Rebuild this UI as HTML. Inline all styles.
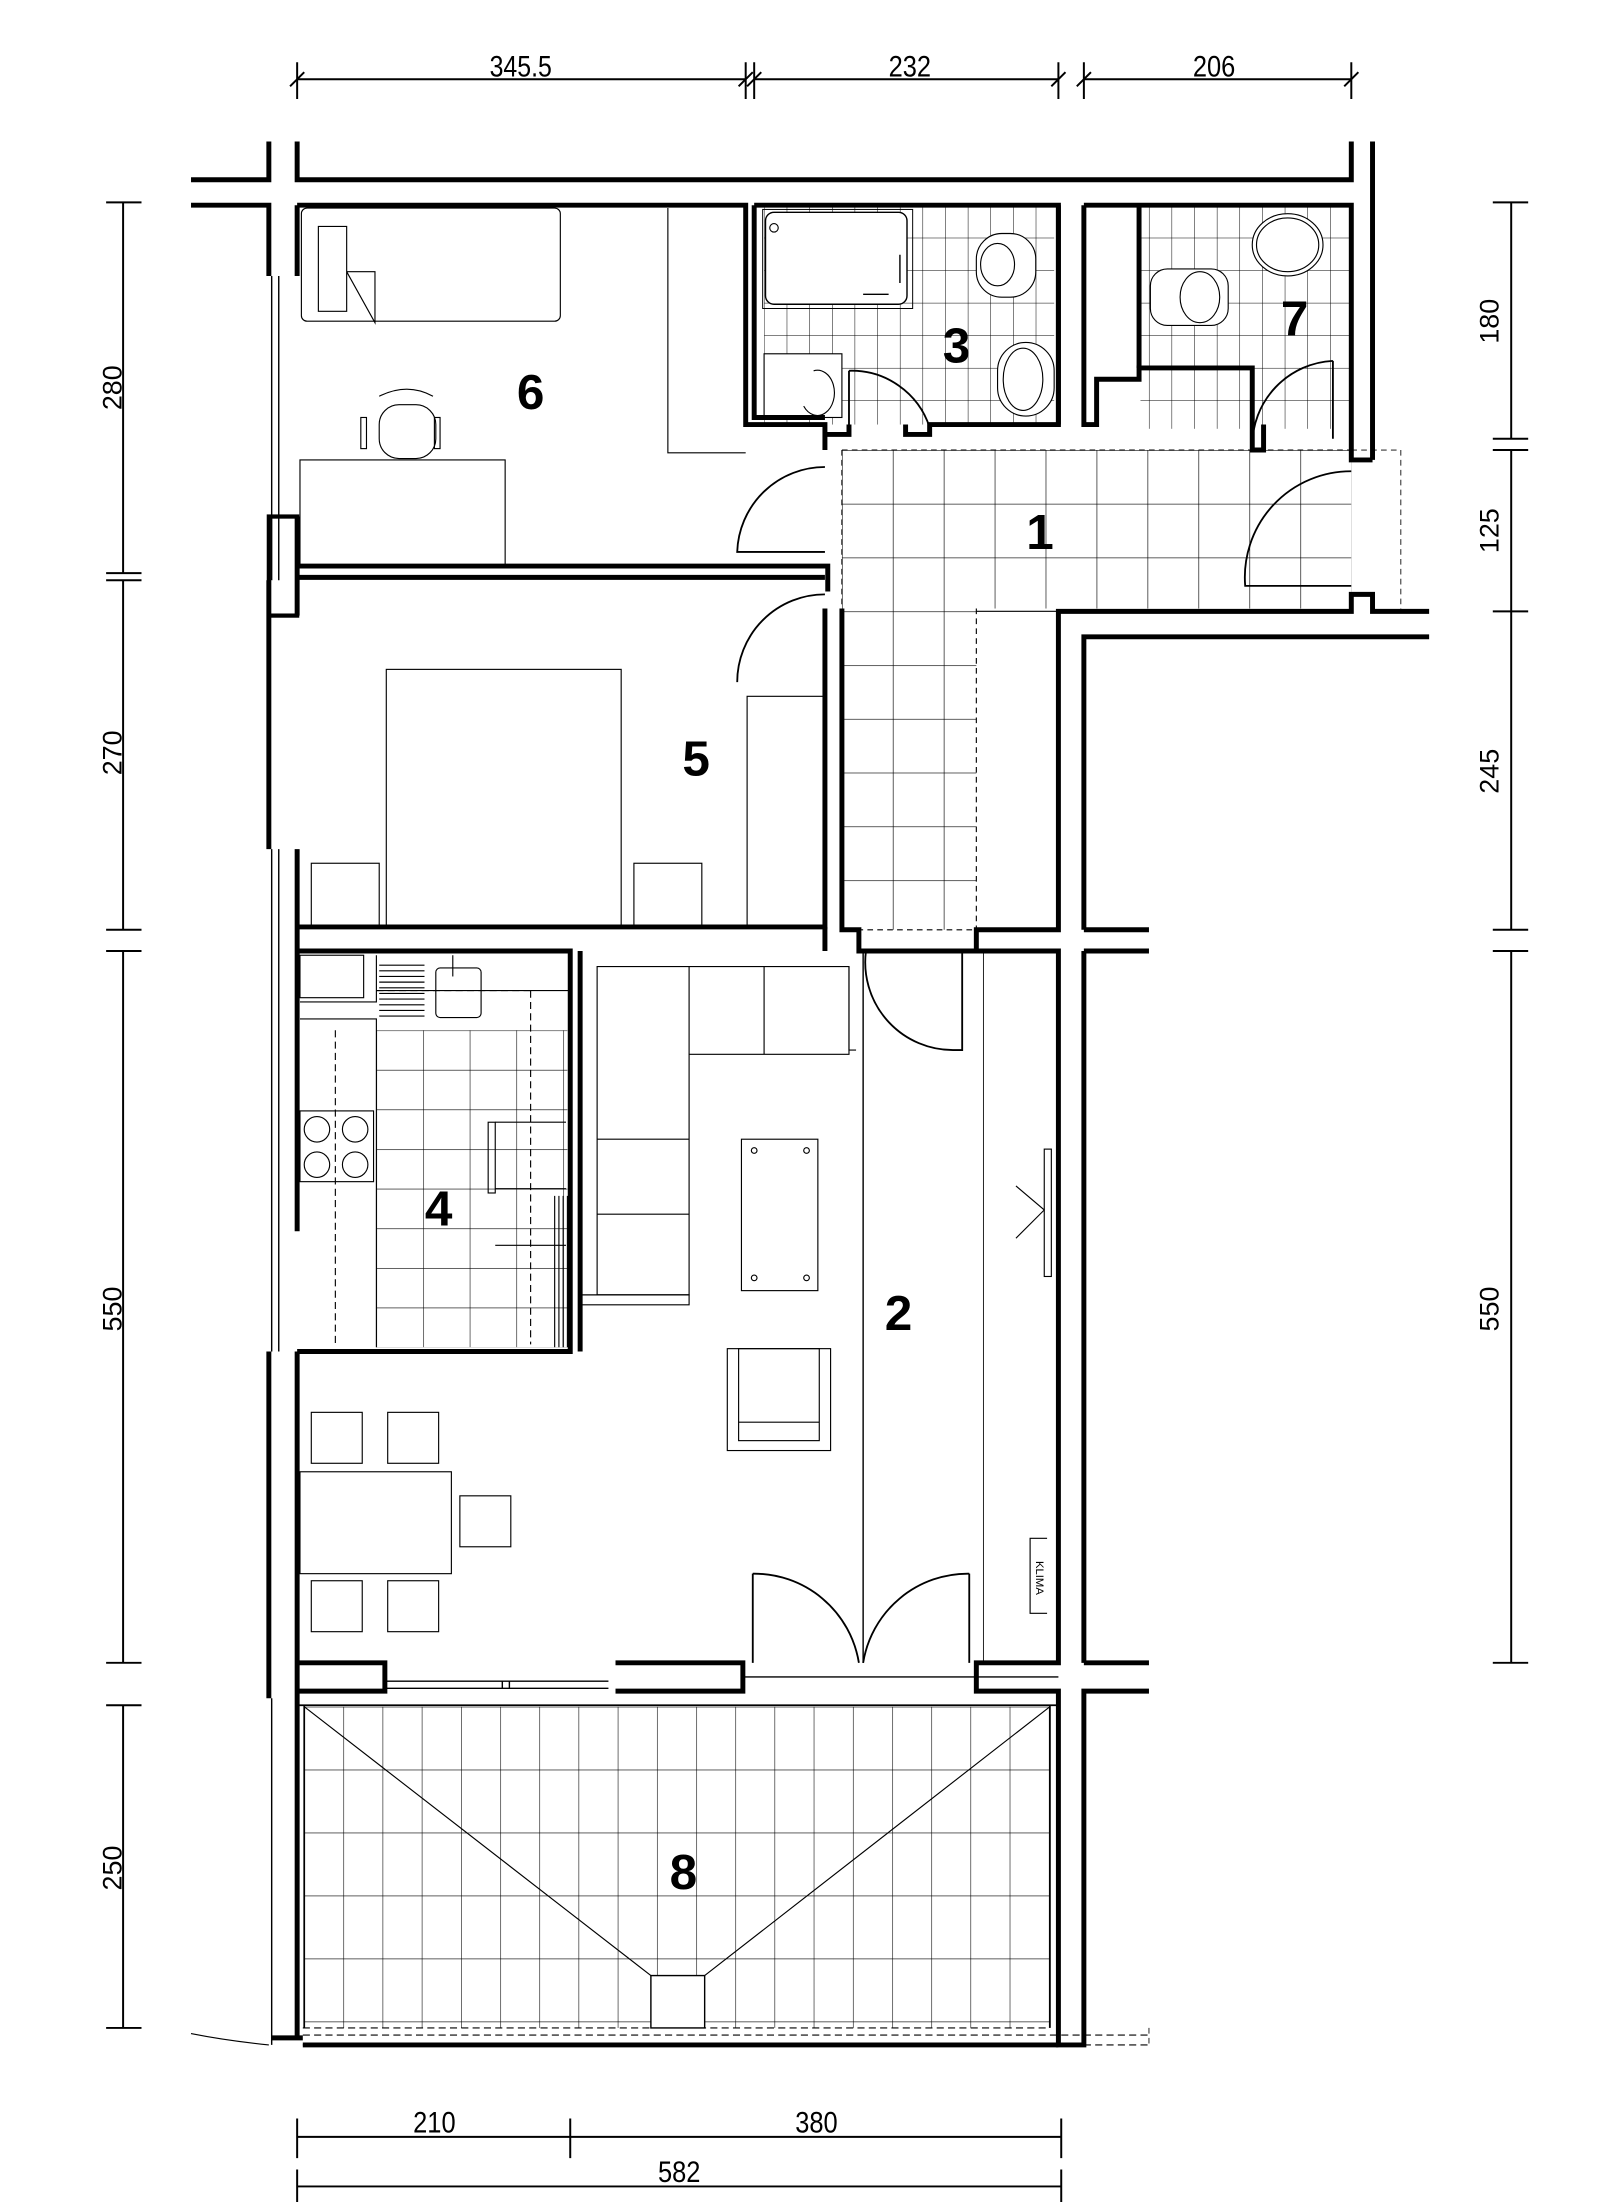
<!DOCTYPE html>
<html><head><meta charset="utf-8"><style>
html,body{margin:0;padding:0;background:#fff}
svg{display:block}
text{font-family:"Liberation Sans",sans-serif}
</style></head><body>
<svg width="1606" height="2202" viewBox="0 0 1135 1556" preserveAspectRatio="none" xmlns="http://www.w3.org/2000/svg">
<defs>
<pattern id="t36" x="595" y="318" width="36" height="38" patternUnits="userSpaceOnUse"><path d="M0 0H36M0 0V38" stroke="#000" stroke-width="0.9" fill="none"/></pattern>
<pattern id="t3" x="540" y="145" width="16" height="23" patternUnits="userSpaceOnUse"><path d="M0 0H16M0 0V23" stroke="#000" stroke-width="0.7" fill="none"/></pattern>
<pattern id="tk" x="266" y="700" width="33" height="28" patternUnits="userSpaceOnUse"><path d="M0 0H33M0 0V28" stroke="#000" stroke-width="0.8" fill="none"/></pattern>
<pattern id="tb" x="215" y="1206" width="27.7" height="44.5" patternUnits="userSpaceOnUse"><path d="M0 0H27.7M0 0V44.5" stroke="#000" stroke-width="0.8" fill="none"/></pattern>
</defs>
<g fill="none" stroke="#000">
<rect x="595" y="318" width="360" height="112" fill="url(#t36)" stroke="none"/>
<rect x="595" y="430" width="95" height="227" fill="url(#t36)" stroke="none"/>
<rect x="540" y="145" width="205" height="155" fill="url(#t3)" stroke="none"/>
<rect x="806" y="145" width="148" height="158" fill="url(#t3)" stroke="none"/>
<rect x="266" y="728" width="135" height="224" fill="url(#tk)" stroke="none"/>
<rect x="215" y="1206" width="527" height="227" fill="url(#tb)" stroke="none"/>
<path d="M595 318H955M595 318V657H690M690 430V657" stroke-dasharray="4 3" stroke-width="0.8"/>
<path d="M690 432H748" stroke-width="0.8"/>
<rect x="541" y="150" width="100" height="65" fill="#fff" stroke-width="1" rx="6"/>
<rect x="539" y="148" width="106" height="70" stroke-width="0.7"/>
<path d="M636 180V200M610 208H628" stroke-width="1"/>
<circle cx="547" cy="161" r="3" stroke-width="0.8"/>
<rect x="540" y="250" width="55" height="45" fill="#fff" stroke-width="0.8"/>
<path d="M575 262A12 16 0 1 1 568 287" stroke-width="0.8"/>
<rect x="690" y="165" width="42" height="45" fill="#fff" stroke-width="0.8" rx="18"/>
<ellipse cx="705" cy="187" rx="12" ry="15" stroke-width="0.8"/>
<rect x="705" y="242" width="40" height="52" fill="#fff" stroke-width="0.8" rx="20"/>
<ellipse cx="723" cy="268" rx="14" ry="22" stroke-width="0.8"/>
<ellipse cx="910" cy="173" rx="25" ry="22" fill="#fff" stroke-width="0.8"/>
<ellipse cx="910" cy="173" rx="22" ry="19" stroke-width="0.8"/>
<rect x="813" y="190" width="55" height="40" fill="#fff" stroke-width="0.8" rx="12"/>
<ellipse cx="848" cy="210" rx="14" ry="18" stroke-width="0.8"/>
<g stroke-width="3.5" stroke-linejoin="miter">
<path d="M135 127H190V100M210 100V127H955V100M970 100V325"/>
<path d="M135 145H190V195M190 410V600M190 955V1200"/>
<path d="M210 145V195M210 365V435M210 600V870M210 955V1440M192 1440H214"/>
<path d="M210 145H527V300H583V318M533 145V295H583"/>
<path d="M533 145H748V300H657V307H640V300M600 300V307H583"/>
<path d="M748 145V300M766 145V300H775V268H805V260H885V318H893V300"/>
<path d="M766 145H955V325H970M955 310V318"/>
<path d="M805 145V260"/>
<path d="M210 400H585V418M210 408H583"/>
<path d="M583 430V655H210M595 430V657H607V672H690V657H748V432H955V420H970V432H1010"/>
<path d="M766 657V450H1010M766 657H812M766 672H812"/>
<path d="M210 672H403V955H210M410 672V955M583 672V655"/>
<path d="M690 672H748V1175H690V1195H748V1445H766V1195H812M766 1175H812M766 672V1175"/>
<path d="M210 1175H272V1195H210M435 1175H525V1195H435"/>
<path d="M214 1445H748"/>
</g>
<path d="M192 195V410M197 195V410M192 600V955M197 600V955M192 1200V1445" stroke-width="1"/>
<rect x="190" y="365" width="20" height="70" stroke-width="3"/>
<path d="M610 672V1175M525 1185H690" stroke-width="1"/>
<path d="M272 1188H430M272 1193H430M355 1188V1193M360 1188V1193M690 1185H748" stroke-width="1"/>
<path d="M214 1433H742M214 1438H812M214 1445H812" stroke-width="0.8" stroke-dasharray="5 3"/>
<path d="M742 1205V1433M215 1205V1433M210 1205H748" stroke-width="1.2"/>
<path d="M135 1437Q160 1442 190 1445" stroke-width="0.8"/>
<path d="M955 318H990V432M812 1433V1445" stroke-dasharray="4 3" stroke-width="0.6"/>
<path d="M215 1206L460 1396M742 1206L498 1396" stroke-width="0.8"/>
<rect x="460" y="1396" width="38" height="37" fill="#fff" stroke-width="1"/>
<g stroke-width="1.3">
<path d="M583 330A62 62 0 0 0 521 390H583"/>
<path d="M583 420A62 62 0 0 0 521 482"/>
<path d="M612 672A62 62 0 0 0 674 742H680V672"/>
<path d="M600 262A58 58 0 0 1 657 302M600 262V302"/>
<path d="M942 255A60 60 0 0 0 885 315M942 255V310"/>
<path d="M955 333A75 75 0 0 0 880 414H955"/>
<path d="M532 1112V1175M532 1112A75 75 0 0 1 607 1175M685 1112V1175M685 1112A75 75 0 0 0 610 1175"/>
</g>
<g stroke-width="0.8">
<rect x="213" y="147" width="183" height="80" rx="4"/>
<path d="M225 160V220H245V160ZM245 160V192H265V228L245 192"/>
<path d="M472 147V320H527"/>
<rect x="212" y="325" width="145" height="75"/>
<rect x="268" y="286" width="40" height="38" rx="14"/>
<path d="M268 280Q288 270 306 280"/>
<rect x="255" y="295" width="4" height="22"/><rect x="307" y="295" width="4" height="22"/>
<rect x="273" y="473" width="166" height="182"/>
<rect x="220" y="610" width="48" height="45"/><rect x="448" y="610" width="48" height="45"/>
<path d="M528 655V492H583"/>
<rect x="212" y="675" width="45" height="30"/>
<path d="M212 708H266V675M266 700H403"/>
<path d="M268 682H300M268 686H300M268 690H300M268 694H300M268 698H300M268 702H300M268 706H300M268 710H300M268 714H300M268 718H300"/>
<rect x="308" y="684" width="32" height="35" rx="3"/><path d="M320 675V690"/>
<path d="M237 728V950M375 700V950M266 700H375" stroke-dasharray="5 3"/>
<path d="M212 720H266V952"/>
<rect x="212" y="785" width="52" height="50"/>
<circle cx="224" cy="798" r="9"/><circle cx="251" cy="798" r="9"/><circle cx="224" cy="823" r="9"/><circle cx="251" cy="823" r="9"/>
<rect x="345" y="793" width="5" height="50"/>
<path d="M350 793H400M350 840H400M350 880H400"/>
<path d="M392 845V952M395 845V952M398 845V952M401 845V952"/>
<path d="M422 683H600V745H487V915H422Z"/>
<path d="M487 683V745M540 683V745M422 805H487M422 858H487M600 683V742H605M410 915H487V922H410"/>
<rect x="524" y="805" width="54" height="107"/>
<circle cx="533" cy="813" r="2"/><circle cx="570" cy="813" r="2"/><circle cx="533" cy="903" r="2"/><circle cx="570" cy="903" r="2"/>
<rect x="514" y="953" width="73" height="72"/><rect x="522" y="953" width="57" height="65"/><path d="M522 1005H579"/>
<rect x="212" y="1040" width="107" height="72"/>
<rect x="220" y="998" width="36" height="36"/><rect x="274" y="998" width="36" height="36"/>
<rect x="325" y="1057" width="36" height="36"/>
<rect x="220" y="1117" width="36" height="36"/><rect x="274" y="1117" width="36" height="36"/>
<rect x="738" y="812" width="5" height="90"/><path d="M718 838L738 855L718 875"/>
<path d="M740 1087H728V1140H740"/>
<path d="M695 672V1175" stroke-width="0.6"/>
</g>
<g stroke-width="1.4">
<path d="M210 56H527M533 56H748M766 56H955"/>
<path d="M210 44V70M527 44V70M533 44V70M748 44V70M766 44V70M955 44V70"/>
<path d="M205 61L215 51M522 61L532 51M528 61L538 51M743 61L753 51M761 61L771 51M950 61L960 51"/>
<path d="M87 143V405M87 410V657M87 672V1175M87 1205V1433"/>
<path d="M75 143H100M75 405H100M75 410H100M75 657H100M75 672H100M75 1175H100M75 1205H100M75 1433H100"/>
<path d="M1068 143V310M1068 318V432M1068 432V657M1068 672V1175"/>
<path d="M1055 143H1080M1055 310H1080M1055 318H1080M1055 432H1080M1055 657H1080M1055 672H1080M1055 1175H1080"/>
<path d="M210 1510H403M403 1510H750M210 1545H750"/>
<path d="M210 1497V1525M403 1497V1525M750 1497V1525M210 1533V1556M750 1533V1556"/>
</g>
</g>
<g font-size="21" text-anchor="middle" fill="#000">
<text x="368" y="54" textLength="44" lengthAdjust="spacingAndGlyphs">345.5</text>
<text x="643" y="54" textLength="30" lengthAdjust="spacingAndGlyphs">232</text>
<text x="858" y="54" textLength="30" lengthAdjust="spacingAndGlyphs">206</text>
<text x="307" y="1507" textLength="30" lengthAdjust="spacingAndGlyphs">210</text>
<text x="577" y="1507" textLength="30" lengthAdjust="spacingAndGlyphs">380</text>
<text x="480" y="1542" textLength="30" lengthAdjust="spacingAndGlyphs">582</text>
</g>
<g font-size="19" text-anchor="middle" fill="#000">
<text transform="translate(86 274) rotate(-90)">280</text>
<text transform="translate(86 532) rotate(-90)">270</text>
<text transform="translate(86 925) rotate(-90)">550</text>
<text transform="translate(86 1320) rotate(-90)">250</text>
<text transform="translate(1059 227) rotate(-90)">180</text>
<text transform="translate(1059 375) rotate(-90)">125</text>
<text transform="translate(1059 545) rotate(-90)">245</text>
<text transform="translate(1059 925) rotate(-90)">550</text>
<text transform="translate(732 1115) rotate(90)" font-size="8">KLIMA</text>
</g>
<g font-size="35" font-weight="bold" text-anchor="middle" fill="#000">
<text x="735" y="388">1</text><text x="635" y="940">2</text><text x="676" y="256">3</text>
<text x="310" y="866">4</text><text x="492" y="548">5</text><text x="375" y="289">6</text>
<text x="915" y="237">7</text><text x="483" y="1335">8</text>
</g>
</svg>
</body></html>
